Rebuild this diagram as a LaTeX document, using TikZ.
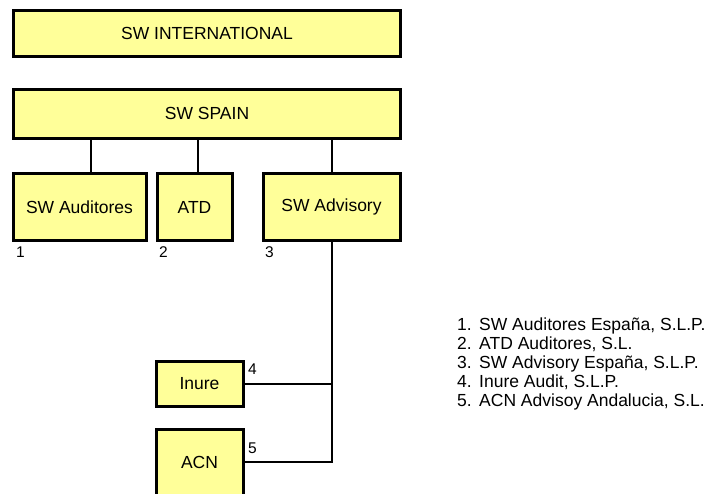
\documentclass[tikz,border=0pt]{standalone}
\usepackage{fontspec}
\setmainfont{Liberation Sans}
\definecolor{boxfill}{HTML}{FFFF99}
\newcommand{\legitem}[2]{\makebox[22pt][l]{#1}#2}
\begin{document}
\begin{tikzpicture}[x=1pt,y=-1pt,
  box/.style={draw=black, line width=3pt, fill=boxfill, inner sep=0pt, font=\fontsize{17.5}{20}\selectfont},
  conn/.style={draw=black, line width=2pt},
  num/.style={inner sep=0pt, anchor=south west, font=\fontsize{15.5}{18}\selectfont},
  legend/.style={inner sep=0pt, anchor=base west, font=\fontsize{17.5}{20}\selectfont}]
\useasboundingbox (0,0) rectangle (717,493);
\clip (0,0) rectangle (717,493);
% boxes
\node[box, minimum width=387pt, minimum height=46pt] (intl) at (207,33) {SW INTERNATIONAL};
\node[box, minimum width=387pt, minimum height=49pt] (spain) at (207,113.5) {SW SPAIN};
\node[box, minimum width=133pt, minimum height=67pt] (aud) at (79.5,207) {SW Auditores};
\node[box, minimum width=75pt, minimum height=67pt] (atd) at (194.5,207) {ATD};
\node[box, minimum width=137pt, minimum height=67pt] (adv) at (331.5,207) {SW Advisory};
\node[box, minimum width=87pt, minimum height=45pt] (inure) at (199.5,384) {Inure};
\node[box, minimum width=87pt, minimum height=66pt] (acn) at (199.5,462) {ACN};
% connectors
\draw[conn] (aud.north -| 91,0) -- (spain.south -| 91,0);
\draw[conn] (atd.north -| 198,0) -- (spain.south -| 198,0);
\draw[conn] (adv.north) -- (spain.south -| adv.north);
\coordinate (j5) at (adv.south |- acn.east);
\draw[conn] (adv.south) -- (j5) -- (acn.east);
\draw[conn] (inure.east) -- (inure.east -| adv.south);
% numbers
\node[num] (n1) at (16,258) {1};
\node[num] (n2) at (159,258) {2};
\node[num] (n3) at (265,258) {3};
\node[num] (n4) at (248,375) {4};
\node[num] (n5) at (248,454) {5};
% legend
\node[legend] (l1) at (457,330) {\legitem{1.}{SW Auditores España, S.L.P.}};
\node[legend] (l2) at (457,349) {\legitem{2.}{ATD Auditores, S.L.}};
\node[legend] (l3) at (457,368) {\legitem{3.}{SW Advisory España, S.L.P.}};
\node[legend] (l4) at (457,387) {\legitem{4.}{Inure Audit, S.L.P.}};
\node[legend] (l5) at (457,406) {\legitem{5.}{ACN Advisoy Andalucia, S.L.}};
\end{tikzpicture}
\end{document}
